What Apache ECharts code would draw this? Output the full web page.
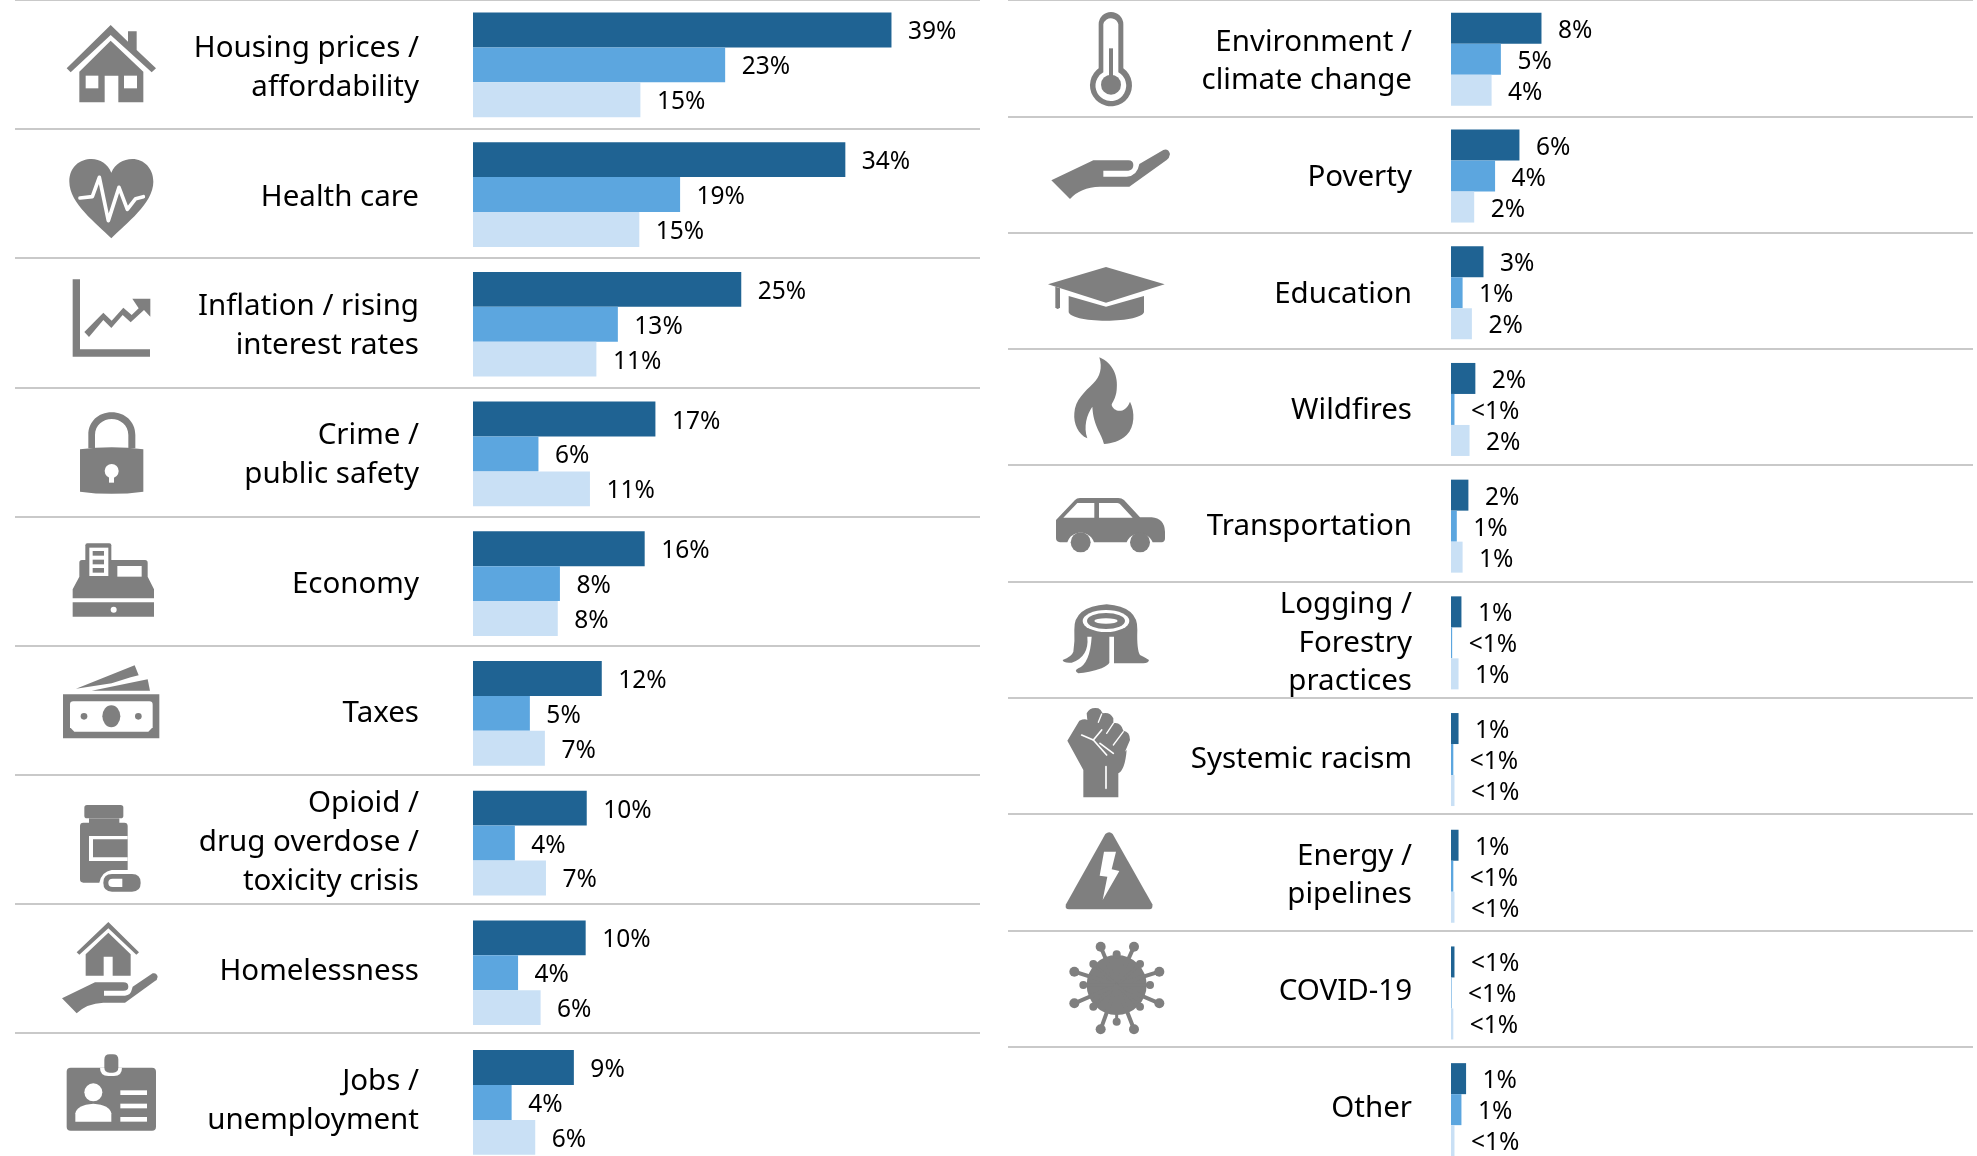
<!DOCTYPE html>
<html>
<head>
<meta charset="utf-8">
<style>
  html, body { margin: 0; padding: 0; background: #fff; }
  #chart { width: 1977px; height: 1156px; }
</style>
<script src="https://cdn.jsdelivr.net/npm/echarts@6/dist/echarts.min.js"></script>
</head>
<body>
<div id="chart"></div>
<script>
// left panel
const leftCategories = ['Housing prices /\naffordability', 'Health care', 'Inflation / rising\ninterest rates',
  'Crime /\npublic safety', 'Economy', 'Taxes', 'Opioid /\ndrug overdose /\ntoxicity crisis', 'Homelessness', 'Jobs /\nunemployment'];
const leftDark = [39, 34.7, 25, 17, 16, 12, 10.6, 10.5, 9.4];
const leftMid = [23.5, 19.3, 13.5, 6.1, 8.1, 5.3, 3.9, 4.2, 3.6];
const leftLight = [15.6, 15.5, 11.5, 10.9, 7.9, 6.7, 6.8, 6.3, 5.8];
const leftDarkText = ['39%', '34%', '25%', '17%', '16%', '12%', '10%', '10%', '9%'];
const leftMidText = ['23%', '19%', '13%', '6%', '8%', '5%', '4%', '4%', '4%'];
const leftLightText = ['15%', '15%', '11%', '11%', '8%', '7%', '7%', '6%', '6%'];

// right panel
const rightCategories = ['Environment /\nclimate change', 'Poverty', 'Education', 'Wildfires', 'Transportation',
  'Logging /\nForestry\npractices', 'Systemic racism', 'Energy /\npipelines', 'COVID-19', 'Other'];
const rightDark = [7.8, 5.9, 2.8, 2.1, 1.5, 0.9, 0.65, 0.65, 0.3, 1.3];
const rightMid = [4.3, 3.8, 1, 0.3, 0.5, 0.1, 0.2, 0.2, 0.05, 0.9];
const rightLight = [3.5, 2, 1.8, 1.6, 1, 0.65, 0.3, 0.3, 0.2, 0.3];
const rightDarkText = ['8%', '6%', '3%', '2%', '2%', '1%', '1%', '1%', '<1%', '1%'];
const rightMidText = ['5%', '4%', '1%', '<1%', '1%', '<1%', '<1%', '<1%', '<1%', '1%'];
const rightLightText = ['4%', '2%', '2%', '2%', '1%', '1%', '<1%', '<1%', '<1%', '<1%'];

const DARK = '#1f6393', MID = '#5ca6df', LIGHT = '#c9e0f5';
const G = '#7f7f7f', W = '#ffffff';
const FONT = '"Noto Sans"';

function circ(cx, cy, r) {
  return `M${cx - r},${cy}A${r},${r} 0 1 0 ${cx + r},${cy}A${r},${r} 0 1 0 ${cx - r},${cy}Z`;
}
function box(x0, y0, x1, y1) {
  return `M${x0},${y0}H${x1}V${y1}H${x0}Z`;
}
function rbox(x0, y0, x1, y1, r) {
  return `M${x0 + r},${y0}H${x1 - r}Q${x1},${y0} ${x1},${y0 + r}V${y1 - r}Q${x1},${y1} ${x1 - r},${y1}H${x0 + r}Q${x0},${y1} ${x0},${y1 - r}V${y0 + r}Q${x0},${y0} ${x0 + r},${y0}Z`;
}

// icons are traced at 3x, x/y is where that tracing starts on the page
const VIRUS_LONG = [[212, 770], [312, 770], [133, 845], [388, 845], [133, 940], [388, 940], [212, 1018], [312, 1018]];
const VIRUS_SHORT = [[260, 793], [190, 822], [330, 822], [160, 885], [360, 885], [190, 950], [330, 950], [260, 995]];
const icons = [
  { x: 40, y: 10, parts: [ // house
    [G, 'M80,175L212,45L264,95V64H290V120L348,175L335,187L212,75L92,187Z'],
    [G, 'M212,92L310,185V277H235V197H194V277H118V185Z'],
    [W, box(137, 197, 175, 235)], [W, box(252, 197, 291, 235)],
    // heart
    [G, 'M214,685C170,640 88,580 88,515C88,470 120,447 155,447C180,447 203,462 214,488C225,462 250,447 277,447C312,447 340,475 340,515C340,580 258,640 214,685Z'],
    [W, 'M120,564L157,560L178,502L205,632L237,532L262,598L287,566L310,560', 11]
  ] },
  { x: 40, y: 260, parts: [ // chart
    [G, 'M98,58H120V268H330V290H98Z'],
    [G, 'M133,216L190,158L215,182L250,143L275,165L296,145L277,116H331V170L312,150L272,187L248,165L214,204L190,180L147,231Z'],
    // lock
    [G, 'M145,565V525C145,485 175,457 215,457C255,457 286,485 286,525V565H265V525C265,495 240,477 215,477C190,477 165,495 165,525V565Z'],
    [G, 'M120,568Q215,555 310,568V695Q215,708 120,695Z'],
    [W, circ(215, 633, 21)], [W, box(207, 640, 222, 668)]
  ] },
  { x: 40, y: 520, parts: [ // cash register
    [G, 'M118,128Q118,120 126,120H315Q323,120 323,128V170L342,208V235H98V208L118,170Z'],
    [G, rbox(136, 70, 214, 130, 6)], [W, box(148, 83, 205, 168)],
    [G, box(158, 93, 192, 107)], [G, box(158, 119, 192, 133)], [G, box(158, 144, 192, 158)],
    [W, box(232, 138, 305, 170)], [G, box(98, 247, 342, 290)], [W, circ(221, 269, 9)],
    // money
    [G, 'M108,506L284,436L296,466L272,472L215,490Z'], [G, 'M155,512L323,478L330,512Z'],
    [G, box(69, 523, 358, 655)],
    [W, 'M100,544H328Q338,544 338,554V622L325,635H103L90,622V554Q90,544 100,544Z'],
    [G, 'M187,589A27,33 0 1 0 241,589A27,33 0 1 0 187,589Z'], [G, circ(132, 589, 10)], [G, circ(295, 589, 10)]
  ] },
  { x: 40, y: 790, parts: [ // pill bottle
    [G, rbox(133, 45, 250, 85, 8)], [G, box(147, 85, 238, 100)],
    [G, 'M120,108Q120,98 130,98H253Q263,98 263,108V240H215Q185,245 178,278H130Q120,278 120,268Z'],
    [W, 'M147,138H263V148H159V202H263V213H147Z'],
    [G, rbox(190, 252, 302, 305, 26)], [W, 'M247,266V291H218Q205,291 205,278Q205,266 218,266Z'],
    // house on hand
    [G, 'M110,487L205,396L297,487L289,494L205,415L118,494Z'],
    [G, 'M205,428L272,493V557H218V500H191V557H137V493Z'],
    [G, 'M66,625L165,577H250Q265,577 265,590Q265,602 250,602H192V617H255Q272,615 275,600L278,590L338,550Q350,547 353,560Q352,570 345,573L255,638H190Q140,640 110,670Z'],
    // id badge
    [G, rbox(80, 833, 348, 1022, 12)],
    [W, 'M180,833Q180,858 205,858H222Q246,858 246,833Z'], [G, rbox(193, 793, 235, 848, 16)],
    [W, circ(160, 907, 27)], [W, 'M106,995V970Q110,945 160,941Q210,945 214,970V995Z'],
    [W, box(241, 901, 321, 915)], [W, box(241, 941, 321, 955)], [W, box(241, 981, 321, 995)]
  ] },
  { x: 1030, y: 0, parts: [ // thermometer
    [G, 'M206,73A37,37 0 0 1 280,73V205A63,63 0 1 1 206,205Z'],
    [W, 'M220,73A23,23 0 0 1 265,73V217A46,46 0 1 1 220,217Z'],
    [G, box(237, 145, 249, 254)], [G, circ(243, 254, 30)],
    // hand
    [G, 'M64,541L190,481H295Q310,481 310,495Q310,510 295,512H220V530H290Q322,528 328,492L400,450Q415,445 420,462Q418,475 410,480L298,560H210Q150,562 120,597Z'],
    // grad cap
    [G, 'M54,853L228,801L404,853L228,908Z'], [G, 'M76,860L90,865V922Q83,932 76,922Z'],
    [G, 'M116,888L228,920L342,888V935C342,950 290,962 228,962C166,962 116,950 116,935Z']
  ] },
  { x: 1030, y: 340, parts: [ // flame
    [G, 'M208,52C250,70 265,110 260,150C258,175 245,190 245,195C250,215 285,225 300,185C315,215 315,260 290,285C270,305 245,310 222,312C215,280 190,260 187,200C170,225 160,260 172,295C145,285 130,250 133,220C135,180 165,155 190,130C210,110 218,85 208,52Z'],
    // car
    [G, 'M78,540L135,480Q140,474 150,474H265Q275,474 282,480L330,532H365Q403,535 405,575V595Q405,606 395,607H368A42,42 0 0 0 290,607H192A42,42 0 0 0 112,607H90Q78,605 78,595Z'],
    [W, 'M100,533L142,489H193V533Z'], [W, 'M207,489H262Q268,489 272,494L308,533H207Z'],
    [G, circ(152, 607, 30)], [G, circ(330, 607, 30)],
    // stump
    [G, 'M133,870Q130,800 230,793Q325,800 322,870Q320,930 330,945Q345,952 357,960Q355,970 340,970H252V890H238V968Q235,975 215,985Q175,998 145,1000Q130,992 145,985Q180,970 185,890H172Q178,950 125,968Q100,970 98,960Q125,950 130,935Q135,905 133,870Z'],
    [W, 'M158,843A70,33 0 1 0 298,843A70,33 0 1 0 158,843Z'],
    [G, 'M171,843A57,24 0 1 0 285,843A57,24 0 1 0 171,843Z'],
    [W, 'M193,843A35,8 0 1 0 263,843A35,8 0 1 0 193,843Z']
  ] },
  { x: 1030, y: 690, parts: [ // fist
    [G, 'M112,152L148,92Q165,85 172,90L170,70Q180,50 205,55Q215,60 218,70Q240,65 250,85L250,100Q272,95 280,122Q300,125 300,150L285,185L290,180Q285,240 265,250V322H160V240Z'],
    [W, 'M155,135L190,150L215,120', 5], [W, 'M190,150L230,195', 5], [W, 'M210,160L250,190', 5], [W, 'M228,230V295', 5],
    [W, 'M215,72L205,97', 4], [W, 'M250,100L230,130', 4], [W, 'M280,125L250,165', 4],
    // warning triangle
    [G, 'M226,432Q238,422 248,432L367,643Q370,658 358,658H117Q103,658 108,643Z'],
    [W, 'M222,485L258,485L245,538L268,543L218,630L232,560L209,557Z'],
    // virus
    [G, circ(260, 885, 90)]
  ].concat(
    VIRUS_LONG.map(p => [G, `M260,885L${p[0]},${p[1]}`, 12]),
    VIRUS_LONG.map(p => [G, circ(p[0], p[1], 15)]),
    VIRUS_SHORT.map(p => [G, `M260,885L${p[0]},${p[1]}`, 9]),
    VIRUS_SHORT.map(p => [G, circ(p[0], p[1], 12)])
  ) }
];

function barSeries(name, axis, values, texts, color, height) {
  return {
    name: name,
    type: 'bar',
    xAxisIndex: axis,
    yAxisIndex: axis,
    data: values,
    barWidth: height,
    barGap: '0%',
    itemStyle: { color: color },
    silent: true,
    label: {
      show: true,
      position: 'right',
      distance: 16.5,
      offset: [0, 2.5],
      color: '#000',
      fontFamily: FONT,
      fontSize: 24.5,
      formatter: p => texts[p.dataIndex]
    }
  };
}

function plainAxis(grid, categories) {
  return {
    type: 'category',
    gridIndex: grid,
    inverse: true,
    data: categories,
    axisTick: { show: false },
    axisLine: { show: false },
    axisLabel: { show: false },
    splitLine: { show: false }
  };
}
// row rules sit in wide panels behind the bars, with a tighter pitch than the bars
function ruleAxis(grid, categories) {
  const axis = plainAxis(grid, categories);
  axis.splitLine = { show: true, interval: 0, lineStyle: { color: '#c9c9c9', width: 2 } };
  return axis;
}
// row names use the rule pitch too, moved down a little in their own panels
function nameAxis(grid, categories) {
  const axis = plainAxis(grid, categories);
  axis.axisLabel = {
    show: true,
    interval: 0,
    margin: -404,
    align: 'right',
    color: '#000',
    fontFamily: FONT,
    fontSize: 29.5,
    lineHeight: 38.6
  };
  return axis;
}
function hiddenX(grid, max) {
  return { type: 'value', gridIndex: grid, min: 0, max: max, show: false };
}

const chart = echarts.init(document.getElementById('chart'), null, { renderer: 'canvas' });
chart.setOption({
  animation: false,
  backgroundColor: '#fff',
  grid: [
    { left: 473, top: 0, width: 507, height: 1167.3, outerBoundsMode: 'none' },
    { left: 1451, top: 1, width: 522, height: 1167, outerBoundsMode: 'none' },
    { left: 15, top: 0, width: 965, height: 1161.9, outerBoundsMode: 'none' },
    { left: 1008, top: 0, width: 965, height: 1163, outerBoundsMode: 'none' },
    { left: 15, top: 3.5, width: 965, height: 1161.9, outerBoundsMode: 'none' },
    { left: 1008, top: 3.5, width: 965, height: 1163, outerBoundsMode: 'none' }
  ],
  xAxis: [hiddenX(0, 47.25), hiddenX(1, 45), hiddenX(2, 1), hiddenX(3, 1), hiddenX(4, 1), hiddenX(5, 1)],
  yAxis: [
    plainAxis(0, leftCategories),
    plainAxis(1, rightCategories),
    ruleAxis(2, leftCategories),
    ruleAxis(3, rightCategories),
    nameAxis(4, leftCategories),
    nameAxis(5, rightCategories)
  ],
  series: [
    barSeries('series1', 0, leftDark, leftDarkText, DARK, 34.9),
    barSeries('series2', 0, leftMid, leftMidText, MID, 34.9),
    barSeries('series3', 0, leftLight, leftLightText, LIGHT, 34.9),
    barSeries('series1', 1, rightDark, rightDarkText, DARK, 31),
    barSeries('series2', 1, rightMid, rightMidText, MID, 31),
    barSeries('series3', 1, rightLight, rightLightText, LIGHT, 31),
    {
      type: 'custom',
      coordinateSystem: 'none',
      silent: true,
      data: icons.map((d, i) => [i]),
      renderItem: function (params) {
        const icon = icons[params.dataIndex];
        return {
          type: 'group',
          x: icon.x,
          y: icon.y,
          scaleX: 1 / 3,
          scaleY: 1 / 3,
          children: icon.parts.map(p => ({
            type: 'path',
            shape: { pathData: p[1] },
            style: p[2]
              ? { fill: 'none', stroke: p[0], lineWidth: p[2], lineCap: 'round', lineJoin: 'round' }
              : { fill: p[0] }
          }))
        };
      }
    }
  ]
});
</script>
</body>
</html>
